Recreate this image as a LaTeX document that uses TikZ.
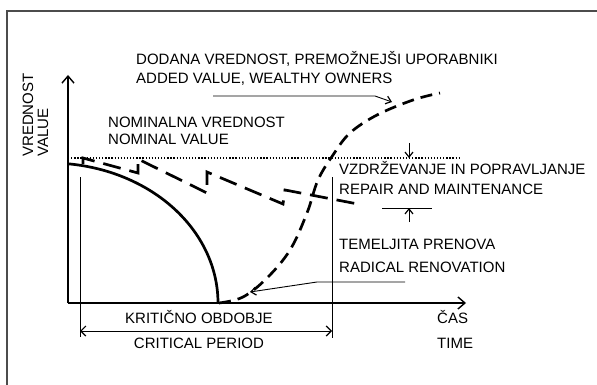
\documentclass[tikz,border=0pt]{standalone}
\usepackage{fontspec}
\setmainfont{Liberation Sans}
\usetikzlibrary{arrows.meta}
\begin{document}
\begin{tikzpicture}[x=1pt,y=-1pt,
  lbl/.style={font=\fontsize{15}{18}\selectfont, inner sep=0pt, anchor=base west},
  clbl/.style={font=\fontsize{15}{18}\selectfont, inner sep=0pt, anchor=base},
  axisline/.style={line width=1.4pt},
  thinline/.style={line width=0.9pt},
  heavy/.style={line width=2.7pt},
  bigbarb/.style={-{Straight Barb[length=7pt,width=12pt,line width=1.4pt]}},
  smallbarb/.style={-{Straight Barb[length=5pt,width=8pt,line width=1.2pt]}},
  dimbarbs/.style={{Straight Barb[length=5pt,width=10pt,line width=1.2pt]}-{Straight Barb[length=5pt,width=10pt,line width=1.2pt]}},
  dotline/.style={line width=1.3pt, dash pattern=on 1.3pt off 1.8pt},
  dashA/.style={heavy, dash pattern=on 12pt off 7pt},
  dashB/.style={heavy, dash pattern=on 18pt off 9pt},
]
\useasboundingbox (0,0) rectangle (597,385);
% frame
\draw[line width=1.2pt, black!70] (7,395) -- (7,11) -- (604,11);

% axes
\coordinate (O) at (68,303);
\coordinate (ytip) at (68,75);
\coordinate (xtip) at (466,303);
\draw[axisline, bigbarb] (O) -- (ytip);
\draw[axisline, bigbarb] (O) -- (xtip);

% nominal value dotted line
\coordinate (n1) at (68,158);
\coordinate (n2) at (459,158);
\draw[dotline] (n1) -- (n2);

% decay curve
\draw[heavy] plot[domain=84:0, samples=80] ({50+168*cos(\x)},{303-140*sin(\x)});

% maintenance sawtooth
\draw[dashB, line join=miter] (83,164) -- (83,158) -- (138,173) -- (138,159) -- (207,193) -- (207,172)
   -- (283,204) -- (285,190) -- (363,205);

% added value curve
\draw[dashA] plot[smooth, tension=0.6] coordinates {(219,303) (243,297) (267,278) (290,250) (307,213) (318,180) (333,155) (350,133) (377,115) (413,100) (440,93)};

% critical period
\coordinate (cL1) at (80,177);
\coordinate (cL2) at (80,337);
\coordinate (cR1) at (332,177);
\coordinate (cR2) at (332,338);
\coordinate (cA) at (80,331);
\coordinate (cB) at (332,331);
\draw[thinline] (cL1) -- (cL2);
\draw[thinline] (cR1) -- (cR2);
\draw[thinline, dimbarbs] (cA) -- (cB);

% repair and maintenance markers
\coordinate (r1) at (409,143);
\coordinate (r2) at (409,158);
\draw[thinline, smallbarb] (r1) -- (r2);
\coordinate (h1) at (382,208);
\coordinate (h2) at (432,208);
\draw[thinline] (h1) -- (h2);
\coordinate (r3) at (409,222);
\coordinate (r4) at (409,208);
\draw[thinline, smallbarb] (r3) -- (r4);

% added value pointer
\coordinate (a1) at (213,96);
\coordinate (a2) at (375,96);
\coordinate (a3) at (392,102);
\draw[thinline, smallbarb] (a1) -- (a2) -- (a3);

% radical renovation pointer
\coordinate (b1) at (405,282);
\coordinate (b2) at (317,282);
\coordinate (b3) at (250,292);
\draw[thinline, smallbarb] (b1) -- (b2) -- (b3);

% texts
\node[lbl] (t1) at (136,65) {DODANA VREDNOST, PREMOŽNEJŠI UPORABNIKI};
\node[lbl] (t2) at (136,84) {ADDED VALUE, WEALTHY OWNERS};
\node[lbl] (t3) at (108,128) {NOMINALNA VREDNOST};
\node[lbl] (t4) at (108,145) {NOMINAL VALUE};
\node[lbl] (t5) at (339,175) {VZDRŽEVANJE IN POPRAVLJANJE};
\node[lbl] (t6) at (339,194) {REPAIR AND MAINTENANCE};
\node[lbl] (t7) at (339,249) {TEMELJITA PRENOVA};
\node[lbl] (t8) at (339,272) {RADICAL RENOVATION};
\node[clbl] (t9) at (199,323) {KRITIČNO OBDOBJE};
\node[clbl] (t10) at (199,348) {CRITICAL PERIOD};
\node[lbl] (t11) at (437,323) {ČAS};
\node[lbl] (t12) at (437,348) {TIME};
\node[lbl, rotate=90] (t13) at (33,157) {VREDNOST};
\node[lbl, rotate=90] (t14) at (48,157) {VALUE};
\end{tikzpicture}
\end{document}
